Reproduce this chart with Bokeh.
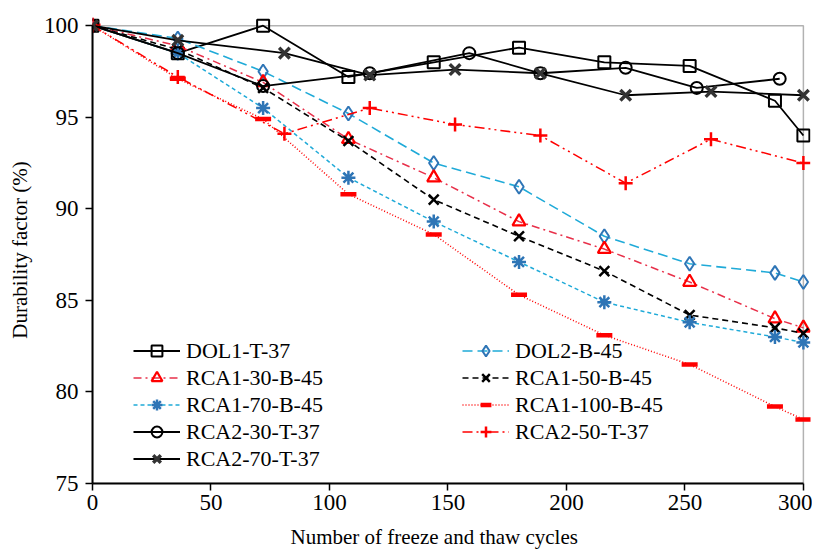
from bokeh.plotting import figure
from bokeh.models import FixedTicker, Legend, LegendItem, BoxAnnotation, Title
from bokeh.embed import file_html
from bokeh.resources import INLINE

# ---- data ----
x_b = [0, 36, 72, 108, 144, 180, 216, 252, 288, 300]
dol1 = [100, 98.5, 100, 97.2, 98.0, 98.8, 98.0, 97.8, 95.9, 94.0]
dol2 = [100, 99.3, 97.5, 95.2, 92.5, 91.2, 88.5, 87.0, 86.5, 86.0]
rca1_30 = [100, 98.9, 96.9, 93.8, 91.7, 89.3, 87.8, 86.0, 84.0, 83.5]
rca1_50 = [100, 98.7, 96.6, 93.7, 90.5, 88.5, 86.6, 84.2, 83.5, 83.2]
rca1_70 = [100, 98.5, 95.5, 91.7, 89.3, 87.1, 84.9, 83.8, 83.0, 82.7]
rca1_100 = [100, 97.1, 94.9, 90.8, 88.6, 85.3, 83.1, 81.5, 79.2, 78.5]

x_r2_30 = [0, 36, 72, 117, 159, 189, 225, 255, 290]
rca2_30 = [100, 98.5, 96.7, 97.4, 98.5, 97.4, 97.7, 96.6, 97.1]
x_r2 = [0, 36, 81, 117, 153, 189, 225, 261, 300]
rca2_50 = [100, 97.2, 94.1, 95.5, 94.6, 94.0, 91.4, 93.8, 92.5]
rca2_70 = [100, 99.2, 98.5, 97.3, 97.6, 97.4, 96.2, 96.4, 96.2]

x_ticks = [0, 50, 100, 150, 200, 250, 300]
y_ticks = [75, 80, 85, 90, 95, 100]
X_MIN, X_MAX = 0, 300
Y_MIN, Y_MAX = 75, 100

FONT = "Liberation Serif"

p = figure(width=812, height=559, x_range=(X_MIN, X_MAX + 3), y_range=(Y_MIN, Y_MAX + 0.5),
           output_backend="svg", toolbar_location=None,
           min_border_left=92, min_border_right=2, min_border_top=16, min_border_bottom=74)
p.background_fill_color = "white"
p.border_fill_color = "white"
p.outline_line_color = None
p.xgrid.visible = False
p.ygrid.visible = False

# plot-area border (top and right edges of the data box)
p.add_layout(BoxAnnotation(left=X_MIN, right=X_MAX, bottom=Y_MIN, top=Y_MAX,
                           fill_alpha=0, line_color="black", line_width=1.5, level="underlay"))

for ax in (p.xaxis[0], p.yaxis[0]):
    ax.axis_line_width = 2
    ax.axis_line_color = "black"
    ax.major_tick_line_width = 1.5
    ax.major_tick_out = 7
    ax.major_tick_in = 0
    ax.minor_tick_line_color = None
    ax.major_label_text_font = FONT
    ax.major_label_text_font_size = "23px"
    ax.major_label_text_color = "black"
    ax.axis_label_text_font = FONT
    ax.axis_label_text_font_size = "21px"
    ax.axis_label_text_font_style = "normal"
    ax.axis_label_text_color = "black"

p.xaxis.ticker = FixedTicker(ticks=x_ticks)
p.yaxis.ticker = FixedTicker(ticks=y_ticks)
p.xaxis.bounds = (X_MIN, X_MAX)
p.yaxis.bounds = (Y_MIN, Y_MAX)
p.yaxis.axis_label = "Durability factor (%)"
p.xaxis.major_label_standoff = 4
p.yaxis.major_label_standoff = 7
p.yaxis.axis_label_standoff = 9

# x-axis title under the data box
p.add_layout(Title(text="Number of freeze and thaw cycles", align="left", offset=198,
                   text_font=FONT, text_font_size="21px", text_font_style="normal",
                   text_color="black", standoff=21), "below")

RED = "#FF0000"
CYAN = "#1FAAD8"
BLUE = "#2E75B6"

def series(label, x, y, lcolor, dash, lw, marker, mcolor, msize, mlw, fill=None):
    l = p.line(x, y, line_color=lcolor, line_dash=dash, line_width=lw)
    s = p.scatter(x, y, marker=marker, size=msize, line_color=mcolor, line_width=mlw,
                  fill_color=fill if fill else "white", fill_alpha=1.0 if fill else 0.0)
    return LegendItem(label=label, renderers=[l, s])

it_dol1 = series("DOL1-T-37", x_b, dol1, "black", "solid", 1.8, "square", "black", 12, 2)
it_dol2 = series("DOL2-B-45", x_b, dol2, CYAN, "10 5", 1.6, "diamond", BLUE, 14, 2)
it_r130 = series("RCA1-30-B-45", x_b, rca1_30, "#E8304A", "8 4 2 4", 1.5, "triangle", RED, 13, 2.2)
it_r150 = series("RCA1-50-B-45", x_b, rca1_50, "black", "6 4", 1.6, "x", "black", 14, 2.5)
it_r170 = series("RCA1-70-B-45", x_b, rca1_70, CYAN, "4 3", 1.5, "asterisk", BLUE, 14, 2.5)
it_r1100 = series("RCA1-100-B-45", x_b, rca1_100, RED, "1 2", 1.5, "dash", RED, 16, 4.5)
it_r230 = series("RCA2-30-T-37", x_r2_30, rca2_30, "black", "solid", 1.8, "circle", "black", 12, 2)
it_r250 = series("RCA2-50-T-37", x_r2, rca2_50, RED, "10 4 2 4 2 4", 1.5, "cross", RED, 14, 2.5)
it_r270 = series("RCA2-70-T-37", x_r2, rca2_70, "black", "solid", 1.8, "x", "#333333", 15, 3.4)

def make_legend(its, loc):
    return Legend(items=its, location=loc, orientation="vertical",
                  background_fill_alpha=0, border_line_color=None,
                  padding=0, margin=0, spacing=0, glyph_width=47, glyph_height=27,
                  label_standoff=6, label_text_font=FONT, label_text_font_size="22px",
                  label_text_color="black", label_height=27)

p.add_layout(make_legend([it_dol1, it_r130, it_r170, it_r230, it_r270], (41, 11)))
p.add_layout(make_legend([it_dol2, it_r150, it_r1100, it_r250], (370, 38)))

open("out.html", "w").write(file_html(p, INLINE))
